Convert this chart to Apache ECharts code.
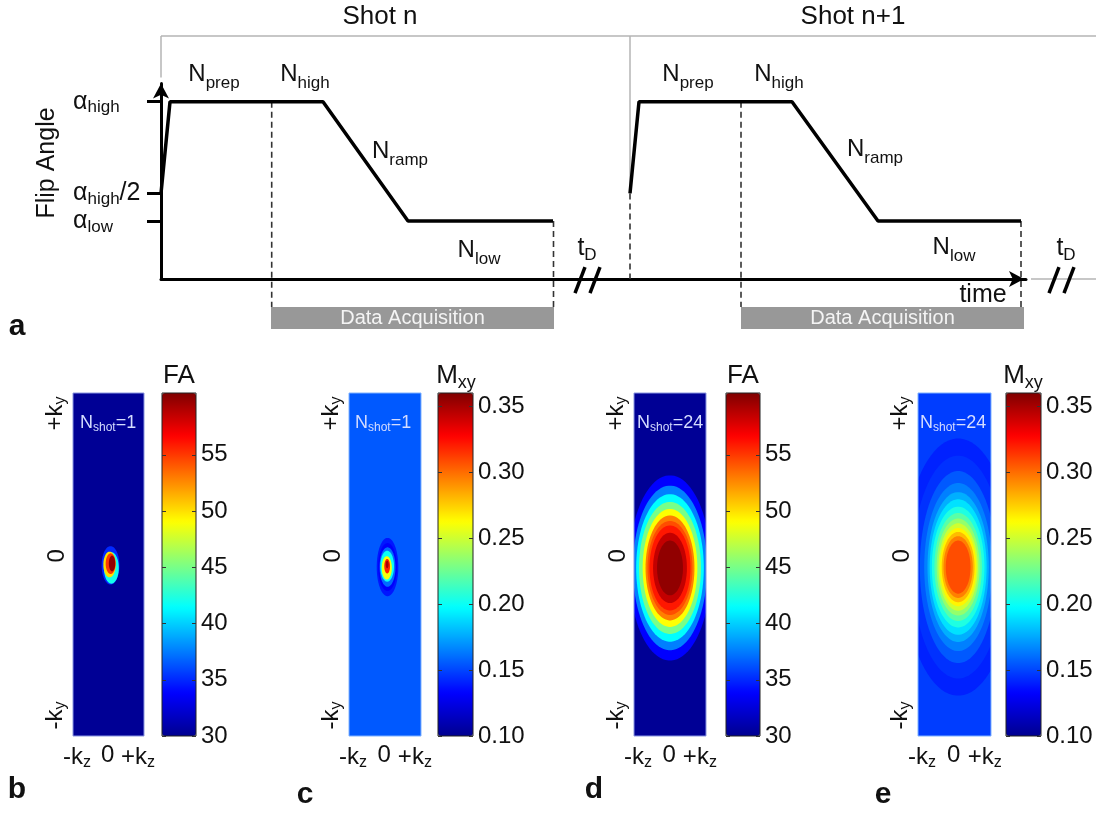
<!DOCTYPE html>
<html><head><meta charset="utf-8">
<script src="https://cdn.jsdelivr.net/npm/echarts@6/dist/echarts.min.js"></script>
<style>html,body{margin:0;padding:0;background:#fff}#c{width:1096px;height:815px}</style>
</head><body><div id="c"></div>
<script>
// ---------------- Panel a : flip-angle schedule (time in arbitrary units, flip angle in degrees) ----------------
const shotNTime  = [0, 0.9, 16.2, 24.7, 39.2];
const shotNFA    = [30, 60, 60, 21, 21];
const shotN1Time = [46.9, 47.8, 63.1, 71.7, 86.0];
const shotN1FA   = [30, 60, 60, 21, 21];
const flipTickValues = [30, 60];
const flipTickLabels = [['α', 'high', '/2'], ['α', 'high', '']];
const flipLowTickValues = [21];
const flipLowTickLabels = [['α', 'low', '']];
const acqWindows = [[11.0, 39.3], [58.0, 86.3]];          // data-acquisition time windows
const acqBand = [-7.2, -14.4];                           // band drawn below the time axis
const dashedGuides = [[11.07, 60, -7.2], [39.25, 21, -7.2], [46.9, 30, 2], [58.0, 60, -7.2], [86.0, 21, -7.2]];
const frameSegments = [[0, 81.5, 93.5, 81.5], [0, 81.5, 0, 67.9], [46.9, 81.5, 46.9, 30], [87.0, 2, 93.5, 2]];
const breakSlashes = [[41.4, -2.6, 42.4, 5.9], [42.9, -2.6, 43.9, 5.9], [88.8, -2.6, 89.8, 5.9], [90.3, -2.6, 91.3, 5.9]];

// ---------------- Panels b-e : k-space maps (value, centre kz, centre ky, half-width kz, half-height ky) ----------------
const kzTickValues = [-0.89, -0.02, 0.83];
const kzTickLabels = [['-k', 'z'], ['0', ''], ['+k', 'z']];
const kyTickValues = [-0.88, 0.05, 0.88];
const kyTickLabels = [['-k', 'y'], ['0', ''], ['+k', 'y']];
const faColorTicks  = [30, 35, 40, 45, 50, 55];
const mxyColorTicks = [0.10, 0.15, 0.20, 0.25, 0.30, 0.35];
const faRange  = [30, 60.5];
const mxyRange = [0.10, 0.36];

const faShot1Field = [30.2, 0, 0, 1, 1];
const faShot1Levels = [
  [35, 0.057, -0.005, 0.25, 0.112],
  [42, 0.08, -0.02, 0.21, 0.092],
  [50, 0.03, 0.0, 0.175, 0.075],
  [55, 0.06, 0.005, 0.14, 0.06],
  [60, 0.1, 0.006, 0.09, 0.046]
];
const mxyShot1Field = [0.155, 0, 0, 1, 1];
const mxyShot1Levels = [
  [0.138, 0.07, -0.015, 0.3, 0.17],
  [0.132, 0.07, -0.015, 0.26, 0.14],
  [0.16, 0.07, -0.015, 0.22, 0.115],
  [0.20, 0.06, -0.01, 0.19, 0.09],
  [0.26, 0.05, -0.02, 0.14, 0.068],
  [0.32, 0.06, -0.01, 0.08, 0.042],
  [0.35, 0.06, 0.0, 0.04, 0.022]
];
const faShot24Field = [30.2, 0, 0, 1, 1];
const faShot24Levels = [
  [33.8, 0, -0.02, 1.14, 0.54],
  [37.6, 0, -0.02, 1.03, 0.48],
  [41.4, 0, -0.02, 0.94, 0.43],
  [45.0, 0, -0.02, 0.86, 0.385],
  [49.0, 0, -0.02, 0.76, 0.344],
  [52.9, 0, -0.02, 0.68, 0.306],
  [54.4, 0, -0.02, 0.625, 0.274],
  [56.0, 0, -0.02, 0.57, 0.248],
  [58.5, 0, -0.02, 0.47, 0.205],
  [60.0, 0, -0.02, 0.36, 0.16]
];
const mxyShot24Field = [0.148, 0, 0, 1, 1];
const mxyShot24Levels = [
  [0.141, 0.1, -0.015, 1.5, 0.75],
  [0.145, 0.1, -0.015, 1.25, 0.65],
  [0.155, 0.1, -0.015, 1.05, 0.56],
  [0.165, 0.1, -0.015, 0.93, 0.49],
  [0.177, 0.1, -0.015, 0.84, 0.437],
  [0.19, 0.1, -0.015, 0.78, 0.395],
  [0.205, 0.1, -0.015, 0.72, 0.352],
  [0.22, 0.1, -0.015, 0.65, 0.315],
  [0.235, 0.1, -0.015, 0.59, 0.283],
  [0.25, 0.1, -0.015, 0.54, 0.255],
  [0.265, 0.1, -0.015, 0.5, 0.228],
  [0.28, 0.1, -0.015, 0.45, 0.205],
  [0.295, 0.1, -0.015, 0.4, 0.18],
  [0.308, 0.1, -0.015, 0.34, 0.155]
];

// ---------------- styling / layout ----------------
const F = '"Liberation Sans", Arial, Helvetica, sans-serif';
const jet = ['#00008f', '#0000ff', '#0080ff', '#00ffff', '#80ff80', '#ffff00', '#ff8000', '#ff0000', '#800000'];
const HEAT_TOP = 393, HEAT_H = 343;

const panels = [
  { heatLeft: 73, heatW: 71, cbLeft: 162, cbW: 34, range: faRange, ticks: faColorTicks, fmt: v => String(v),
    field: faShot1Field, levels: faShot1Levels, border: '#8a96e0' },
  { heatLeft: 349, heatW: 72, cbLeft: 438, cbW: 35, range: mxyRange, ticks: mxyColorTicks, fmt: v => v.toFixed(2),
    field: mxyShot1Field, levels: mxyShot1Levels, border: '#7fb2ff' },
  { heatLeft: 634, heatW: 72, cbLeft: 726, cbW: 34, range: faRange, ticks: faColorTicks, fmt: v => String(v),
    field: faShot24Field, levels: faShot24Levels, border: '#8a96e0' },
  { heatLeft: 918, heatW: 73, cbLeft: 1006, cbW: 35, range: mxyRange, ticks: mxyColorTicks, fmt: v => v.toFixed(2),
    field: mxyShot24Field, levels: mxyShot24Levels, border: '#7fb2ff' }
];

function segmentRenderer(style) {
  return function (params, api) {
    const p1 = api.coord([api.value(0), api.value(1)]);
    const p2 = api.coord([api.value(2), api.value(3)]);
    return { type: 'line', shape: { x1: p1[0], y1: p1[1], x2: p2[0], y2: p2[1] }, style: style };
  };
}
function fieldRenderer(params, api) {
  const cz = api.value(1), cy = api.value(2), rz = api.value(3), ry = api.value(4);
  const p1 = api.coord([cz - rz, cy + ry]), p2 = api.coord([cz + rz, cy - ry]);
  return { type: 'rect', shape: { x: p1[0], y: p1[1], width: p2[0] - p1[0], height: p2[1] - p1[1] },
           style: { fill: api.visual('color') } };
}
function ellipseRenderer(params, api) {
  const cz = api.value(1), cy = api.value(2), rz = api.value(3), ry = api.value(4);
  const pts = [];
  const n = 90;
  for (let i = 0; i < n; i++) {
    const a = i / n * Math.PI * 2;
    pts.push(api.coord([cz + rz * Math.cos(a), cy + ry * Math.sin(a)]));
  }
  return { type: 'polygon', shape: { points: pts }, style: { fill: api.visual('color') } };
}

const grids = [], xAxes = [], yAxes = [], series = [], visualMaps = [];

// ---- panel a grid
const flipRich = { a: { fontSize: 25, fontFamily: F, color: '#111', verticalAlign: 'middle', lineHeight: 20 },
                   s: { fontSize: 17, fontFamily: F, color: '#111', verticalAlign: 'middle', padding: [12, 0, 0, 0], lineHeight: 16 } };
function flipAxis(values, labels, showLine) {
  return { gridIndex: 0, type: 'value', min: 2, max: 66, position: 'left',
    axisLine: { show: showLine, symbol: ['none', 'arrow'], symbolSize: [12, 15], lineStyle: { color: '#000', width: 3 } },
    axisTick: { show: true, customValues: values, length: 14, lineStyle: { color: '#000', width: 3 } },
    axisLabel: { customValues: values, align: 'left', margin: 88, hideOverlap: false,
      formatter: v => { const l = labels[values.indexOf(v)]; return '{a|' + l[0] + '}{s|' + l[1] + '}' + (l[2] ? '{a|' + l[2] + '}' : ''); },
      rich: flipRich },
    splitLine: { show: false } };
}
grids.push({ left: 161, top: 83.4, width: 865, height: 195.6 });
xAxes.push({ gridIndex: 0, type: 'value', min: 0, max: 86.5,
  axisLine: { show: true, symbol: ['none', 'arrow'], symbolSize: [12, 15], symbolOffset: [0, -2], lineStyle: { color: '#000', width: 3 } },
  axisTick: { show: false }, axisLabel: { show: false }, splitLine: { show: false } });
yAxes.push(flipAxis(flipTickValues, flipTickLabels, true));
yAxes.push(flipAxis(flipLowTickValues, flipLowTickLabels, false));

const common = { xAxisIndex: 0, yAxisIndex: 0, animation: false, silent: true };
series.push(Object.assign({ type: 'custom', name: 'frame', clip: false, data: frameSegments,
  renderItem: segmentRenderer({ stroke: '#b4b4b4', lineWidth: 1.5 }) }, common));
series.push(Object.assign({ type: 'custom', name: 'acquisition', clip: false, data: acqWindows,
  renderItem: function (params, api) {
    const p1 = api.coord([api.value(0), acqBand[0]]), p2 = api.coord([api.value(1), acqBand[1]]);
    return { type: 'rect', shape: { x: p1[0], y: p1[1], width: p2[0] - p1[0], height: p2[1] - p1[1] },
      style: { fill: '#989898' },
      textContent: { style: { text: 'Data Acquisition', fill: '#f4f4f4', font: '20px ' + F } },
      textConfig: { position: 'inside' } };
  } }, common));
series.push(Object.assign({ type: 'custom', name: 'guides', clip: false,
  data: dashedGuides.map(d => [d[0], d[1], d[0], d[2]]),
  renderItem: segmentRenderer({ stroke: '#333', lineWidth: 1.6, lineDash: [6, 4] }) }, common));
series.push(Object.assign({ type: 'line', name: 'Shot n', clip: false, symbol: 'none',
  data: shotNTime.map((t, i) => [t, shotNFA[i]]), lineStyle: { color: '#000', width: 3.5 } }, common));
series.push(Object.assign({ type: 'line', name: 'Shot n+1', clip: false, symbol: 'none',
  data: shotN1Time.map((t, i) => [t, shotN1FA[i]]), lineStyle: { color: '#000', width: 3.5 } }, common));
series.push(Object.assign({ type: 'custom', name: 'breaks', clip: false, data: breakSlashes,
  renderItem: segmentRenderer({ stroke: '#000', lineWidth: 3.5 }) }, common));
series.push({ type: 'line', name: 'lowAxisAnchor', xAxisIndex: 0, yAxisIndex: 1, data: [], silent: true });

// ---- panels b-e
panels.forEach((p, k) => {
  const gh = grids.length;
  grids.push({ left: p.heatLeft, top: HEAT_TOP, width: p.heatW, height: HEAT_H, show: true,
    backgroundColor: 'transparent', borderColor: p.border, borderWidth: 1, z: 10 });
  const gc = grids.length;
  grids.push({ left: p.cbLeft, top: HEAT_TOP, width: p.cbW, height: HEAT_H, show: true,
    backgroundColor: 'transparent', borderColor: '#222', borderWidth: 1, z: 10 });

  const xh = xAxes.length;
  xAxes.push({ gridIndex: gh, type: 'value', min: -1, max: 1, axisLine: { show: false }, axisTick: { show: false },
    splitLine: { show: false },
    axisLabel: { customValues: kzTickValues, margin: 7, hideOverlap: false,
      formatter: v => { const l = kzTickLabels[kzTickValues.indexOf(v)]; return '{m|' + l[0] + '}' + (l[1] ? '{s|' + l[1] + '}' : ''); },
      rich: { m: { fontSize: 24, fontFamily: F, color: '#111', verticalAlign: 'middle' },
              s: { fontSize: 16, fontFamily: F, color: '#111', verticalAlign: 'middle', padding: [12, 0, 0, 0] } } } });
  const yh = yAxes.length;
  yAxes.push({ gridIndex: gh, type: 'value', min: -1, max: 1, axisLine: { show: false }, axisTick: { show: false },
    splitLine: { show: false },
    axisLabel: { customValues: kyTickValues, rotate: 90, margin: 4, hideOverlap: false,
      formatter: v => { const l = kyTickLabels[kyTickValues.indexOf(v)]; return '{m|' + l[0] + '}' + (l[1] ? '{s|' + l[1] + '}' : ''); },
      rich: { m: { fontSize: 24, fontFamily: F, color: '#111', verticalAlign: 'middle' },
              s: { fontSize: 16, fontFamily: F, color: '#111', verticalAlign: 'middle', padding: [12, 0, 0, 0] } } } });
  xAxes.push({ gridIndex: gc, type: 'value', min: 1, max: 2, show: false });
  yAxes.push({ gridIndex: gc, type: 'value', position: 'right', min: p.range[0], max: p.range[1], z: 10,
    axisLine: { show: false, onZero: false }, splitLine: { show: false },
    axisTick: { show: true, inside: true, length: 4, customValues: p.ticks, lineStyle: { color: '#333', width: 1 } },
    axisLabel: { customValues: p.ticks, formatter: p.fmt, fontSize: 24, fontFamily: F, color: '#111', margin: 5, hideOverlap: false } });
  yAxes.push({ gridIndex: gc, type: 'value', position: 'left', min: p.range[0], max: p.range[1], z: 10,
    axisLine: { show: false, onZero: false }, splitLine: { show: false }, axisLabel: { show: false },
    axisTick: { show: true, inside: true, length: 4, customValues: p.ticks, lineStyle: { color: '#333', width: 1 } } });

  const s0 = series.length;
  series.push({ type: 'custom', name: 'field' + k, xAxisIndex: xh, yAxisIndex: yh, clip: true, animation: false, silent: true,
    encode: { x: 1, y: 2 }, data: [p.field], renderItem: fieldRenderer });
  series.push({ type: 'custom', name: 'levels' + k, xAxisIndex: xh, yAxisIndex: yh, clip: true, animation: false, silent: true,
    encode: { x: 1, y: 2 }, data: p.levels, renderItem: ellipseRenderer });
  visualMaps.push({ type: 'continuous', min: p.range[0], max: p.range[1], seriesIndex: [s0, s0 + 1], dimension: 0,
    inRange: { color: jet }, calculable: false, orient: 'vertical', left: p.cbLeft, top: HEAT_TOP,
    itemWidth: p.cbW, itemHeight: HEAT_H, padding: 0, text: null, hoverLink: false, z: 1 });
});

// ---------------- text annotations ----------------
function txt(x, y, text, size, opts) {
  return { type: 'text', x: x, y: y, z: 100, silent: true,
    style: Object.assign({ text: text, font: size + 'px ' + F, fill: '#111', align: 'center', verticalAlign: 'middle' }, opts || {}) };
}
function sub(x, y, main, s, mainSize, subSize, drop, tail) {
  return { type: 'text', x: x, y: y, z: 100, silent: true,
    style: { text: '{m|' + main + '}{s|' + s + '}' + (tail ? '{m|' + tail + '}' : ''), align: 'center', verticalAlign: 'middle',
      rich: { m: { fontSize: mainSize, fontFamily: F, fill: '#111', verticalAlign: 'middle' },
              s: { fontSize: subSize, fontFamily: F, fill: '#111', verticalAlign: 'middle', padding: [drop, 0, 0, 0] } } } };
}
function nshot(x, n) {
  return { type: 'text', x: x, y: 423, z: 100, silent: true,
    style: { text: '{m|N}{s|shot}{m|=' + n + '}', align: 'left', verticalAlign: 'middle',
      rich: { m: { fontSize: 18, fontFamily: F, fill: '#d4dcff', verticalAlign: 'middle' },
              s: { fontSize: 12, fontFamily: F, fill: '#d4dcff', verticalAlign: 'middle', padding: [10, 0, 0, 0] } } } };
}
const graphics = [
  txt(380, 17, 'Shot n', 26), txt(853, 17, 'Shot n+1', 26),
  Object.assign(txt(47, 163, 'Flip Angle', 25), { rotation: Math.PI / 2 }),
  sub(214, 74, 'N', 'prep', 24, 17, 18), sub(305, 74, 'N', 'high', 24, 17, 18),
  sub(400, 151, 'N', 'ramp', 24, 17, 18), sub(479, 250, 'N', 'low', 24, 17, 18),
  sub(688, 74, 'N', 'prep', 24, 17, 18), sub(779, 74, 'N', 'high', 24, 17, 18),
  sub(875, 149, 'N', 'ramp', 24, 17, 18), sub(954, 247, 'N', 'low', 24, 17, 18),
  sub(587, 248, 't', 'D', 25, 17, 14), sub(1066, 248, 't', 'D', 25, 17, 14),
  txt(983, 295, 'time', 25),
  txt(179, 376, 'FA', 26), txt(743, 376, 'FA', 26),
  sub(456, 376, 'M', 'xy', 26, 18, 14), sub(1023, 376, 'M', 'xy', 26, 18, 14),
  nshot(80, 1), nshot(355, 1), nshot(637, 24), nshot(920, 24),
  txt(17, 327, 'a', 30, { font: 'bold 30px ' + F }),
  txt(17, 790, 'b', 30, { font: 'bold 30px ' + F }),
  txt(305, 795, 'c', 30, { font: 'bold 30px ' + F }),
  txt(594, 790, 'd', 30, { font: 'bold 30px ' + F }),
  txt(883, 795, 'e', 30, { font: 'bold 30px ' + F })
];

const chart = echarts.init(document.getElementById('c'), null, { renderer: 'canvas', width: 1096, height: 815 });
chart.setOption({
  animation: false,
  backgroundColor: '#fff',
  grid: grids, xAxis: xAxes, yAxis: yAxes, series: series, visualMap: visualMaps,
  graphic: { elements: graphics }
});
</script>
</body></html>
